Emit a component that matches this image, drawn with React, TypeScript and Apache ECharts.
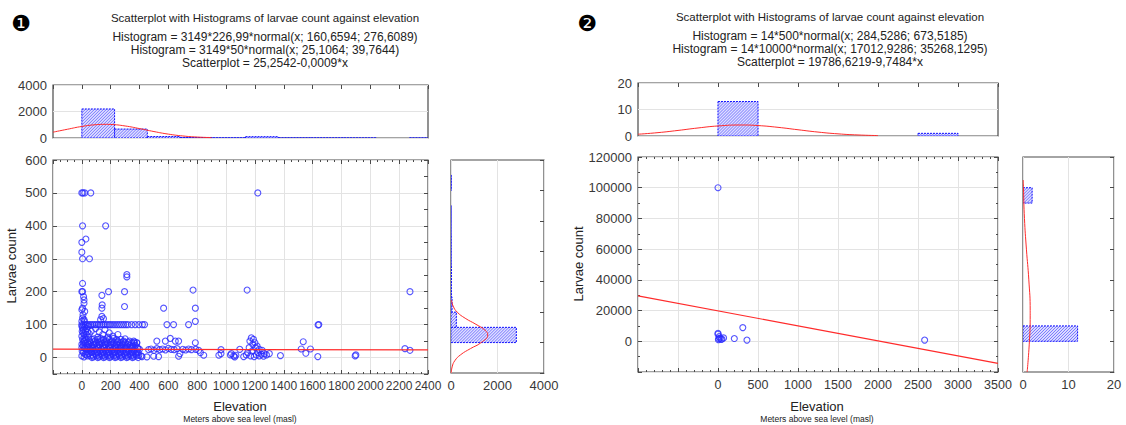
import React, { useEffect, useRef } from 'react';
import * as echarts from 'echarts';

const FONT = "'Liberation Sans', Arial, Helvetica, sans-serif";

// ---------- Panel 1 texts ----------
const title1 = 'Scatterplot with Histograms of larvae count against elevation';
const sub1 = [
  'Histogram = 3149*226,99*normal(x; 160,6594; 276,6089)',
  'Histogram = 3149*50*normal(x; 25,1064; 39,7644)',
  'Scatterplot = 25,2542-0,0009*x',
];
// ---------- Panel 2 texts ----------
const title2 = 'Scatterplot with Histograms of larvae count against elevation';
const sub2 = [
  'Histogram = 14*500*normal(x; 284,5286; 673,5185)',
  'Histogram = 14*10000*normal(x; 17012,9286; 35268,1295)',
  'Scatterplot = 19786,6219-9,7484*x',
];
const xName = 'Elevation';
const xSubName = 'Meters above sea level (masl)';
const yName = 'Larvae count';

// ---------- Panel 1 data ----------
const leftTopBinWidth = 226.99;
const leftTopBinStart = [0, 226.99, 453.98, 680.97, 907.96, 1134.95, 1361.94, 1588.93, 1815.92, 2042.91, 2269.9];
const leftTopCounts = [2190, 675, 110, 40, 15, 100, 8, 6, 3, 0, 2];
const leftTopCurve: [number, number][] = [
  [-200, 440], [-100, 660], [0, 872], [100, 1006], [160, 1031], [200, 1021], [300, 908],
  [400, 709], [500, 486], [600, 292], [700, 154], [800, 71], [900, 29],
];
const leftSideBinWidth = 50;
const leftSideBinStart = [0, 50, 100, 150, 200, 250, 300, 350, 400, 450, 500, 550];
const leftSideCounts = [2810, 230, 45, 18, 22, 5, 5, 2, 3, 0, 9, 0];
const leftSideCurve: [number, number][] = [
  [11, -100], [49, -80], [160, -60], [415, -40], [833, -20], [1295, 0], [1580, 25],
  [1471, 40], [1073, 60], [609, 80], [267, 100], [91, 120], [24, 140],
];
const leftFit: [number, number][] = [[-200, 25.4], [2400, 23.1]];
const leftPoints: [number, number][] = [
  [0, 500], [8, 500], [20, 500], [62, 500], [1220, 500],
  [5, 400], [165, 400],
  [28, 360], [0, 350], [0, 320], [5, 300], [53, 300],
  [312, 252], [312, 245],
  [5, 225], [0, 200], [5, 200], [185, 200], [296, 200], [771, 205], [1146, 205], [2275, 200],
  [12, 185], [15, 175], [15, 165], [139, 189], [141, 160], [139, 150], [296, 155], [567, 150], [787, 150], [0, 145], [5, 150],
  [787, 110], [139, 125], [130, 115], [150, 118], [0, 110], [5, 120], [15, 115], [8, 130], [20, 140], [18, 110],
  [0, 100], [12, 100], [25, 100], [38, 100], [50, 100], [62, 100], [75, 100], [88, 100], [100, 100], [112, 100],
  [125, 100], [138, 100], [150, 100], [162, 100], [175, 100], [188, 100], [200, 100], [215, 100], [230, 100],
  [245, 100], [260, 100], [275, 100], [290, 100], [305, 100], [320, 100], [345, 100], [370, 100], [395, 100],
  [420, 100], [435, 100], [590, 100], [636, 100], [740, 100], [1643, 100],
  [0, 95], [5, 90], [10, 85], [2, 80], [8, 75], [15, 70], [0, 65], [20, 60], [5, 55], [12, 50], [25, 45], [0, 40],
  [8, 35], [18, 30], [30, 25], [2, 20], [10, 15], [22, 10], [0, 5], [15, 2], [35, 88], [40, 78], [30, 70], [45, 62],
  [28, 55], [38, 48], [50, 40], [42, 32], [33, 18], [48, 12], [40, 5], [55, 22],
  [20, 92], [45, 95], [25, 80], [52, 72], [18, 50], [35, 38], [22, 28], [50, 28], [0, 30], [10, 45], [30, 8], [55, 50],
  [65, 80], [95, 88], [120, 78], [145, 70], [160, 85], [190, 75], [215, 65], [250, 70], [180, 62], [110, 62],
  [70, 55], [110, 55], [150, 55], [190, 55], [240, 55], [270, 55],
  [85, 57], [130, 58], [175, 57], [220, 58], [300, 57],
  [90, 50], [130, 50], [170, 50], [210, 50], [250, 50], [290, 50], [330, 50], [360, 50],
  [80, 47], [120, 47], [160, 47], [200, 47], [245, 47], [285, 47], [320, 47], [365, 47],
  [60, 45], [100, 45], [140, 45], [180, 45], [225, 45], [265, 45], [300, 45], [345, 45], [380, 45],
  [80, 40], [120, 40], [160, 40], [200, 40], [240, 40], [280, 40], [320, 40],
  [85, 37], [125, 37], [165, 37], [205, 37], [250, 37], [290, 37], [335, 37], [370, 37],
  [65, 35], [105, 35], [145, 35], [185, 35], [230, 35], [275, 35], [310, 35], [355, 35],
  [75, 30], [115, 30], [155, 30], [195, 30], [235, 30], [265, 30], [300, 30], [340, 30], [385, 30],
  [75, 27], [115, 27], [155, 27], [195, 27], [235, 27], [270, 27], [310, 27], [350, 27], [390, 27],
  [60, 25], [95, 25], [135, 25], [175, 25], [215, 25], [250, 25], [290, 25], [330, 25], [370, 25], [400, 25],
  [85, 20], [125, 20], [165, 20], [205, 20], [245, 20], [285, 20], [325, 20], [360, 20],
  [65, 17], [105, 17], [145, 17], [185, 17], [225, 17], [265, 17], [305, 17], [345, 17], [380, 17],
  [70, 15], [110, 15], [150, 15], [190, 15], [230, 15], [270, 15], [310, 15], [350, 15], [390, 15],
  [95, 10], [135, 10], [175, 10], [215, 10], [255, 10], [295, 10], [335, 10], [375, 10],
  [75, 7], [115, 7], [155, 7], [195, 7], [235, 7], [275, 7], [315, 7], [355, 7], [395, 7],
  [60, 5], [100, 5], [140, 5], [180, 5], [220, 5], [260, 5], [300, 5], [340, 5], [380, 5], [410, 5],
  [80, 2], [120, 2], [160, 2], [200, 2], [240, 2], [280, 2], [320, 2], [360, 2],
  [70, 0], [110, 0], [150, 0], [190, 0], [230, 0], [270, 0], [310, 0], [350, 0], [390, 0],
  [520, 50], [579, 50], [613, 58], [648, 50], [671, 50], [787, 45], [359, 45], [382, 45],
  [463, 24], [480, 26], [500, 22], [520, 27], [540, 24], [560, 26], [580, 23], [600, 28], [620, 25], [640, 24],
  [660, 27], [700, 25], [720, 23], [740, 26], [760, 24], [790, 25], [810, 22],
  [417, 3], [451, 2], [498, 4], [532, 3], [671, 4], [680, 12], [822, 15], [845, 7], [950, 7], [965, 24], [965, 12],
  [1037, 12], [1053, 5], [1068, 7], [1095, 25], [1122, 3], [1060, 2], [1030, 8],
  [1175, 60], [1190, 55], [1165, 50], [1200, 45], [1185, 40], [1215, 35], [1160, 30], [1205, 30], [1230, 25],
  [1250, 22], [1180, 20], [1220, 15], [1245, 10], [1265, 12], [1140, 8], [1170, 5], [1195, 3], [1230, 5],
  [1280, 8], [1300, 12], [1150, 15], [1210, 8], [1260, 4],
  [1377, 6], [1535, 48], [1521, 26], [1553, 13], [1585, 26], [1636, 3], [1638, 99], [1900, 8], [1895, 5],
  [2240, 27], [2275, 22],
];

// ---------- Panel 2 data ----------
const rightTopBinWidth = 500;
const rightTopBinStart = [0, 500, 1000, 1500, 2000, 2500, 3000];
const rightTopCounts = [13, 0, 0, 0, 0, 1, 0];
const rightTopCurve: [number, number][] = [
  [-1000, 0.67], [-750, 1.27], [-500, 2.1], [-250, 3.03], [0, 3.79], [285, 4.15], [500, 3.94],
  [750, 3.27], [1000, 2.36], [1250, 1.48], [1500, 0.81], [1750, 0.39], [2000, 0.16],
];
const rightSideBinWidth = 10000;
const rightSideBinStart = [0, 10000, 20000, 30000, 40000, 50000, 60000, 70000, 80000, 90000];
const rightSideCounts = [12, 0, 0, 0, 0, 0, 0, 0, 0, 2];
const rightSideCurve: [number, number][] = [
  [0.91, -20000], [1.41, 0], [1.58, 17000], [1.58, 20000], [1.28, 40000], [0.75, 60000],
  [0.32, 80000], [0.1, 100000], [0.07, 105000],
];
const rightFit: [number, number][] = [[-1000, 29535], [3500, -14333]];
const rightPoints: [number, number][] = [
  [0, 100000], [0, 5200], [0, 4600], [10, 1700], [40, 1200], [70, 2200], [25, 2000],
  [204, 1800], [310, 8900], [362, 800], [2583, 800], [15, 3000], [50, 1500], [5, 1000],
];

// ---------- styling helpers ----------
const BLUE = '#2b2bff';
const RED = '#ff2b2b';
const GRIDC = '#e3e3e3';
const FRAME = '#4a4a4a';
const LABELC = '#383838';

function hatch(x0: number, y0: number, x1: number, y1: number) {
  const out: any[] = [];
  const step = 3;
  for (let c = x0 + y0 + 1; c < x1 + y1; c += step) {
    const xa = Math.max(x0, c - y1);
    const xb = Math.min(x1, c - y0);
    if (xb > xa) {
      out.push({ type: 'line', shape: { x1: xa, y1: c - xa, x2: xb, y2: c - xb }, style: { stroke: '#5a5aff', lineWidth: 0.8 } });
    }
  }
  return out;
}

function barGroup(x0: number, y0: number, x1: number, y1: number) {
  return {
    type: 'group',
    children: [
      { type: 'rect', shape: { x: x0, y: y0, width: x1 - x0, height: y1 - y0 }, style: { fill: '#dedeff' } },
      ...hatch(x0, y0, x1, y1),
      { type: 'rect', shape: { x: x0, y: y0, width: x1 - x0, height: y1 - y0 }, style: { fill: 'none', stroke: '#1010ff', lineWidth: 1, lineDash: [2, 1] } },
    ],
  };
}

const vBar = (params: any, api: any) => {
  const a = api.coord([api.value(0), 0]);
  const b = api.coord([api.value(1), api.value(2)]);
  return barGroup(Math.min(a[0], b[0]), Math.min(a[1], b[1]), Math.max(a[0], b[0]), Math.max(a[1], b[1]));
};
const hBar = (params: any, api: any) => {
  const a = api.coord([0, api.value(0)]);
  const b = api.coord([api.value(2), api.value(1)]);
  return barGroup(Math.min(a[0], b[0]), Math.min(a[1], b[1]), Math.max(a[0], b[0]), Math.max(a[1], b[1]));
};

const bins = (starts: number[], width: number, counts: number[]) =>
  starts.map((s, i) => [s, s + width, counts[i]]).filter((d) => d[2] > 0);

const tick = { show: true, inside: true, length: 4, lineStyle: { color: FRAME, width: 1 } };
const plain = (v: number) => String(v);
const hideNeg = (v: number) => (v < 0 ? '' : String(v));
const label = (size: number, formatter: any = plain) => ({ show: true, color: LABELC, fontSize: size, fontFamily: FONT, margin: 6, formatter });

function ax(gridIndex: number, min: number, max: number, interval: number | undefined, extra: any = {}) {
  const o: any = {
    type: 'value', gridIndex, min, max,
    axisLine: { show: false, onZero: false }, axisTick: { show: false }, axisLabel: { show: false },
    splitLine: { show: false }, minorTick: { show: false },
    ...extra,
  };
  if (interval !== undefined) o.interval = interval;
  return o;
}

function textEl(text: string, x: number, y: number, size: number, extra: any = {}) {
  return {
    type: 'text', x, y, ...extra,
    style: { text, font: `${size}px ${FONT}`, fill: '#222', align: 'center', verticalAlign: 'middle', textAlign: 'center', textVerticalAlign: 'middle' },
  };
}

export default function App() {
  const ref = useRef<HTMLDivElement>(null);
  useEffect(() => {
    if (!ref.current) return;
    const chart = echarts.init(ref.current, undefined, { renderer: 'svg' });

    const grids = [
      { left: 53, top: 85, width: 375, height: 53 },
      { left: 53, top: 160, width: 375, height: 214 },
      { left: 451, top: 160, width: 93, height: 213 },
      { left: 638, top: 83, width: 360, height: 53 },
      { left: 638, top: 157, width: 360, height: 215 },
      { left: 1023, top: 157, width: 91, height: 215 },
    ].map((g) => ({ ...g, show: true, borderColor: FRAME, borderWidth: 1.2, containLabel: false }));

    const minor = (n: number) => ({ show: true, splitNumber: n, length: 2, lineStyle: { color: FRAME } });
    const XL = 12;
    const YL = 13;

    const xAxis = [
      ax(0, -200, 2400, 200), // 0
      ax(0, -200, 2400, 200, { position: 'top', axisTick: tick }), // 1
      ax(1, -200, 2400, 200, {
        position: 'bottom', axisTick: tick, axisLabel: label(XL, hideNeg), minorTick: minor(4),
        splitLine: { show: true, lineStyle: { color: GRIDC, width: 1 } },
      }), // 2
      ax(1, -200, 2400, 200, { position: 'top', axisTick: tick, minorTick: minor(4) }), // 3
      ax(2, 0, 4000, 2000, { position: 'bottom', axisLabel: label(YL), splitLine: { show: true, lineStyle: { color: GRIDC } } }), // 4
      ax(3, -1000, 3500, 500), // 5
      ax(3, -1000, 3500, 500, { position: 'top', axisTick: tick }), // 6
      ax(4, -1000, 3500, 500, {
        position: 'bottom', axisTick: tick, axisLabel: label(12.5, hideNeg), minorTick: minor(5),
        splitLine: { show: true, lineStyle: { color: GRIDC, width: 1 } },
      }), // 7
      ax(4, -1000, 3500, 500, { position: 'top', axisTick: tick, minorTick: minor(5) }), // 8
      ax(5, 0, 20, 10, { position: 'bottom', axisLabel: label(YL), splitLine: { show: true, lineStyle: { color: GRIDC } } }), // 9
    ];

    const yAxis = [
      ax(0, 0, 4000, 2000, { position: 'left', axisLabel: label(YL), splitLine: { show: true, lineStyle: { color: GRIDC } } }), // 0
      ax(1, -50, 600, undefined, {
        position: 'left', splitNumber: 6, axisTick: tick, axisLabel: label(YL, hideNeg),
        splitLine: { show: true, lineStyle: { color: GRIDC, width: 1 } },
      }), // 1
      ax(1, -50, 600, 50, { position: 'right', axisTick: tick }), // 2
      ax(2, -100, 600, 100, { position: 'left' }), // 3
      ax(2, -100, 600, 100, { position: 'right', axisTick: tick }), // 4
      ax(3, 0, 20, 10, { position: 'left', axisLabel: label(YL), splitLine: { show: true, lineStyle: { color: GRIDC } } }), // 5
      ax(4, -20000, 120000, 20000, {
        position: 'left', axisTick: tick, axisLabel: label(YL, hideNeg), minorTick: minor(2),
        splitLine: { show: true, lineStyle: { color: GRIDC, width: 1 } },
      }), // 6
      ax(4, -20000, 120000, 20000, { position: 'right', axisTick: tick, minorTick: minor(2) }), // 7
      ax(5, -20000, 120000, 20000, { position: 'left' }), // 8
      ax(5, -20000, 120000, 20000, { position: 'right', axisTick: tick }), // 9
    ];

    const curve = (data: [number, number][], xi: number, yi: number) => ({
      type: 'line', xAxisIndex: xi, yAxisIndex: yi, data, smooth: true, symbol: 'none', showSymbol: false,
      lineStyle: { color: RED, width: 1 }, z: 4, clip: true, silent: true,
    });
    const pts = (data: [number, number][], xi: number, yi: number) => ({
      type: 'scatter', xAxisIndex: xi, yAxisIndex: yi, data, symbol: 'circle', symbolSize: 6,
      itemStyle: { color: 'rgba(0,0,0,0)', borderColor: BLUE, borderWidth: 1.1 }, z: 3, silent: true,
    });
    const fit = (data: [number, number][], xi: number, yi: number) => ({
      type: 'line', xAxisIndex: xi, yAxisIndex: yi, data, symbol: 'none', showSymbol: false,
      lineStyle: { color: RED, width: 1.2 }, z: 5, clip: true, silent: true,
    });

    const series: any[] = [
      { type: 'custom', xAxisIndex: 0, yAxisIndex: 0, renderItem: vBar, clip: true, encode: { x: [0, 1], y: 2 }, data: bins(leftTopBinStart, leftTopBinWidth, leftTopCounts), z: 2 },
      curve(leftTopCurve, 0, 0),
      pts(leftPoints, 2, 1),
      fit(leftFit, 2, 1),
      { type: 'custom', xAxisIndex: 4, yAxisIndex: 3, renderItem: hBar, clip: true, encode: { x: 2, y: [0, 1] }, data: bins(leftSideBinStart, leftSideBinWidth, leftSideCounts), z: 2 },
      curve(leftSideCurve, 4, 3),
      { type: 'custom', xAxisIndex: 5, yAxisIndex: 5, renderItem: vBar, clip: true, encode: { x: [0, 1], y: 2 }, data: bins(rightTopBinStart, rightTopBinWidth, rightTopCounts), z: 2 },
      curve(rightTopCurve, 5, 5),
      pts(rightPoints, 7, 6),
      fit(rightFit, 7, 6),
      { type: 'custom', xAxisIndex: 9, yAxisIndex: 8, renderItem: hBar, clip: true, encode: { x: 2, y: [0, 1] }, data: bins(rightSideBinStart, rightSideBinWidth, rightSideCounts), z: 2 },
      curve(rightSideCurve, 9, 8),
    ];

    const graphic: any[] = [
      { type: 'text', x: 21, y: 23, style: { text: '❶', font: "22px 'DejaVu Sans'", fill: '#000', align: 'center', verticalAlign: 'middle' } },
      { type: 'text', x: 587, y: 23, style: { text: '❷', font: "22px 'DejaVu Sans'", fill: '#000', align: 'center', verticalAlign: 'middle' } },
      textEl(title1, 265, 18, 11.5),
      textEl(sub1[0], 265, 37, 12),
      textEl(sub1[1], 265, 50, 12),
      textEl(sub1[2], 265, 63, 12),
      textEl(title2, 830, 17, 11.5),
      textEl(sub2[0], 830, 36, 12),
      textEl(sub2[1], 830, 49, 12),
      textEl(sub2[2], 830, 62, 12),
      textEl(xName, 240, 406, 13),
      textEl(xSubName, 240, 419, 8.5),
      textEl(xName, 817, 406, 13),
      textEl(xSubName, 817, 419, 8.5),
      textEl(yName, 11, 266, 13, { rotation: Math.PI / 2 }),
      textEl(yName, 578, 264, 13, { rotation: Math.PI / 2 }),
    ];

    chart.setOption({
      animation: false,
      backgroundColor: '#ffffff',
      textStyle: { fontFamily: FONT },
      grid: grids,
      xAxis,
      yAxis,
      series,
      graphic,
    });
    return () => chart.dispose();
  }, []);
  return <div ref={ref} style={{ position: 'fixed', left: 0, top: 0, width: 1126, height: 425 }} />;
}
